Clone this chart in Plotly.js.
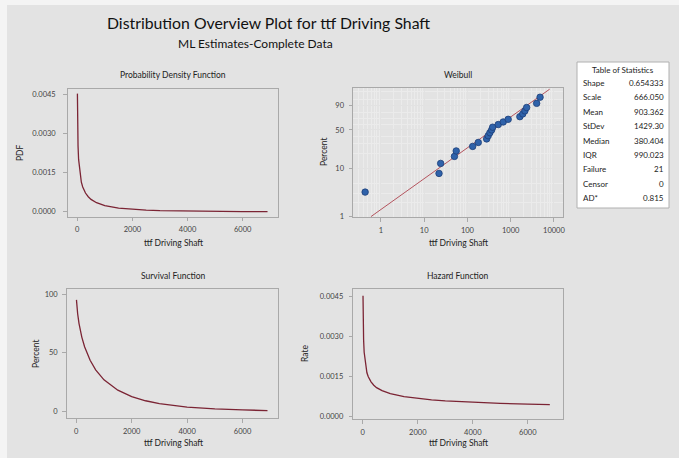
<!DOCTYPE html>
<html>
<head>
<meta charset="utf-8">
<script src="https://cdn.plot.ly/plotly-3.0.1.min.js"></script>
<style>html,body{margin:0;padding:0;background:#f4f4f4;}#chart{width:679px;height:458px;}</style>
</head>
<body>
<div id="chart"></div>
<script>
// ---- Data ----
const curveX = [7,10,20,30,50,100,150,200,300,400,500,700,1000,1500,2000,2500,3000,4000,5000,6000,6900];
const pdfVals = [0.004515,0.00394,0.002987,0.002517,0.00200,0.00142,0.001128,0.000945,0.000715,0.000573,0.000473,0.000344,0.000231,0.000136,0.0000861,0.0000578,0.0000401,0.0000209,0.0000116,0.0000068,0.0000043];
const survivalPct = [95.05,93.8,90.4,87.7,83.2,74.9,68.6,63.4,55.2,48.9,43.65,35.6,27.1,18.3,12.8,9.3,6.88,3.95,2.38,1.48,1.0];
const hazardX = [8,10,20,30,50,100,150,200,300,400,500,700,1000,1500,2000,2500,3000,4000,5000,6000,6800];
const hazardVals = [0.00454,0.00420,0.00330,0.00287,0.00241,0.00190,0.00164,0.00149,0.00130,0.00117,0.00108,0.000965,0.000853,0.000741,0.000671,0.000621,0.000583,0.000528,0.000489,0.000459,0.000439];

const failTimes = [0.43,22,24,50,55,132,178,278,302,331,363,383,516,672,875,1630,1900,2130,2340,3990,4780];
const failPct = [3.27,7.94,12.62,17.29,21.96,26.64,31.31,35.98,40.65,45.33,50.00,54.67,59.35,64.02,68.69,73.36,78.04,82.71,87.38,92.06,96.73];
const fitLineX = [0.587, 8000];
const fitLinePct = [1, 99.38];

const pctLabeled = [1,10,50,90];
const pctGrid = [2,3,5,20,30,40,60,70,80,95,99];
const rateTicks = [0,0.0015,0.003,0.0045];
const rateLabels = ['0.0000','0.0015','0.0030','0.0045'];
const timeTicks = [0,2000,4000,6000];
const survTicks = [0,50,100];
const logTicks = [1,10,100,1000,10000];

const statNames = ['Shape','Scale','Mean','StDev','Median','IQR','Failure','Censor','AD*'];
const statValues = ['0.654333','666.050','903.362','1429.30','380.404','990.023','21','0','0.815'];

// ---- helpers ----
const W = 679, H = 458;
const px = x => x / W;
const py = y => 1 - y / H;
const wb = p => Math.log(-Math.log(1 - p / 100)); // Weibull probability scale

const FONT = 'Lato, "Open Sans", sans-serif';
const lineCol = '#7b2434';

const baseAxis = {
  showline: true, mirror: true, linecolor: '#a9a9a9', linewidth: 1,
  ticks: 'outside', ticklen: 3.5, tickcolor: '#a9a9a9',
  tickfont: {size: 7.5, color: '#444', family: FONT},
  showgrid: false, zeroline: false, fixedrange: true
};

const traces = [
  {x: curveX, y: pdfVals, xaxis: 'x', yaxis: 'y', mode: 'lines', line: {color: lineCol, width: 1.3}, hoverinfo: 'skip'},
  {x: fitLineX, y: fitLinePct.map(wb), xaxis: 'x2', yaxis: 'y2', mode: 'lines', line: {color: '#b4545e', width: 1}, hoverinfo: 'skip'},
  {x: failTimes, y: failPct.map(wb), xaxis: 'x2', yaxis: 'y2', mode: 'markers',
   marker: {color: '#2f62aa', size: 6.5, line: {color: '#1d3f78', width: 0.8}}, hoverinfo: 'skip'},
  {x: curveX, y: survivalPct, xaxis: 'x3', yaxis: 'y3', mode: 'lines', line: {color: lineCol, width: 1.3}, hoverinfo: 'skip'},
  {x: hazardX, y: hazardVals, xaxis: 'x4', yaxis: 'y4', mode: 'lines', line: {color: lineCol, width: 1.3}, hoverinfo: 'skip'}
];

const timeRange = [-345, 7290];
const layout = {
  width: W, height: H,
  margin: {l: 0, r: 0, t: 0, b: 0},
  paper_bgcolor: '#f4f4f4', plot_bgcolor: '#ffffff',
  showlegend: false,
  font: {family: FONT, color: '#333'},
  xaxis: Object.assign({}, baseAxis, {domain: [px(67.7), px(278.3)], range: timeRange, tickvals: timeTicks, anchor: 'y', ticklabelstandoff: 2}),
  yaxis: Object.assign({}, baseAxis, {domain: [py(216.7), py(89.3)], range: [-0.00019, 0.00468], tickvals: rateTicks, ticktext: rateLabels, anchor: 'x', ticklabelstandoff: 6}),
  xaxis2: Object.assign({}, baseAxis, {domain: [px(353), px(563)], type: 'log', range: [-0.647, 4.21], tickvals: logTicks, ticktext: logTicks.map(String), anchor: 'y2', ticklabelstandoff: 2,
    showgrid: true, gridcolor: '#e2e2e2', gridwidth: 1,
    minor: {dtick: 'D1', showgrid: true, gridcolor: '#ebebeb', gridwidth: 1, ticks: ''}}),
  yaxis2: Object.assign({}, baseAxis, {domain: [py(217), py(88)], range: [-4.62, 1.68], tickvals: pctLabeled.map(wb), ticktext: pctLabeled.map(String), anchor: 'x2', ticklabelstandoff: 3,
    showgrid: true, gridcolor: '#e2e2e2', gridwidth: 1,
    minor: {tickvals: pctGrid.map(wb), showgrid: true, gridcolor: '#ebebeb', gridwidth: 1, ticks: ''}}),
  xaxis3: Object.assign({}, baseAxis, {domain: [px(66.7), px(278.3)], range: timeRange, tickvals: timeTicks, anchor: 'y3', ticklabelstandoff: 2}),
  yaxis3: Object.assign({}, baseAxis, {domain: [py(418.3), py(289.3)], range: [-5.6, 104], tickvals: survTicks, anchor: 'x3', ticklabelstandoff: 3}),
  xaxis4: Object.assign({}, baseAxis, {domain: [px(353.3), px(563.3)], range: timeRange, tickvals: timeTicks, anchor: 'y4', ticklabelstandoff: 2}),
  yaxis4: Object.assign({}, baseAxis, {domain: [py(419), py(289.3)], range: [-0.0001, 0.00478], tickvals: rateTicks, ticktext: rateLabels, anchor: 'x4', ticklabelstandoff: 4}),
  shapes: [
    {type: 'rect', xref: 'paper', yref: 'paper', x0: px(7), x1: 1, y0: 0, y1: py(5), fillcolor: '#e3e3e3', line: {width: 0}, layer: 'below'},
    {type: 'rect', xref: 'paper', yref: 'paper', x0: px(577), x1: px(669), y0: py(208), y1: py(62), fillcolor: '#ffffff', line: {color: '#b0b0b0', width: 1}, layer: 'below'}
  ],
  annotations: []
};

function txt(text, x, y, size, opts) {
  layout.annotations.push(Object.assign({
    text: text, xref: 'paper', yref: 'paper', x: px(x), y: py(y),
    xanchor: 'center', yanchor: 'middle', showarrow: false,
    font: {size: size, color: '#222', family: FONT}
  }, opts || {}));
}

txt('Distribution Overview Plot for ttf Driving Shaft', 268, 22, 15.8, {font: {size: 15.8, color: '#111', family: FONT}});
txt('ML Estimates-Complete Data', 255, 43, 12, {font: {size: 12, color: '#111', family: FONT}});

txt('Probability Density Function', 173, 75, 8.5);
txt('Weibull', 458, 75, 8.5);
txt('Survival Function', 173, 276, 8.5);
txt('Hazard Function', 458, 276, 8.5);

txt('ttf Driving Shaft', 173, 243, 8.5);
txt('ttf Driving Shaft', 458, 243, 8.5);
txt('ttf Driving Shaft', 173, 443, 8.5);
txt('ttf Driving Shaft', 458, 443, 8.5);

txt('PDF', 20, 153, 8.5, {textangle: -90});
txt('Percent', 324, 152, 8.5, {textangle: -90});
txt('Percent', 36, 354, 8.5, {textangle: -90});
txt('Rate', 305, 354, 8.5, {textangle: -90});

// Table of statistics
txt('Table of Statistics', 623, 70, 8, {font: {size: 8, color: '#222', family: FONT}});
statNames.forEach((n, i) => {
  const y = 83 + i * 14.4;
  txt(n, 581, y, 8, {xanchor: 'left', font: {size: 8, color: '#222', family: FONT}});
  txt(statValues[i], 666, y, 8, {xanchor: 'right', font: {size: 8, color: '#222', family: FONT}});
});

Plotly.newPlot('chart', traces, layout, {staticPlot: true, displayModeBar: false});
</script>
</body>
</html>
